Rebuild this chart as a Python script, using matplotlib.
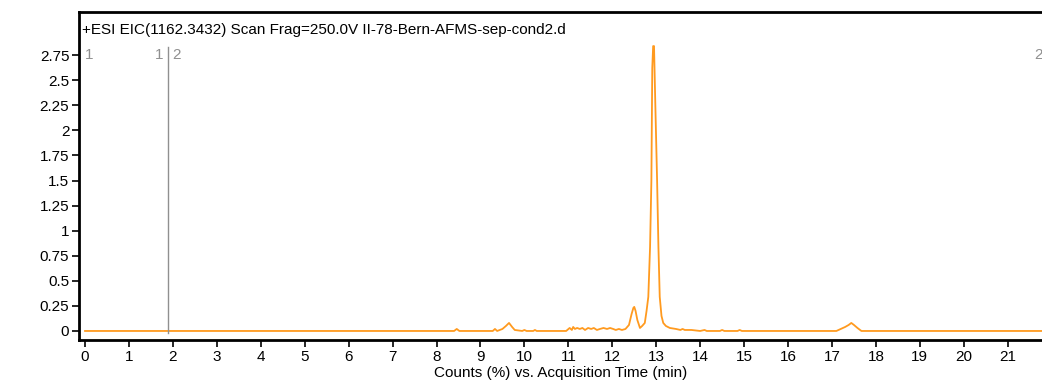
import matplotlib.pyplot as plt

plt.rcParams['font.family'] = ['Liberation Sans', 'DejaVu Sans']

# acquisition time (min) and counts
time = [0.0, 8.40, 8.46, 8.52, 9.28, 9.33, 9.38, 9.50, 9.58, 9.65, 9.72, 9.78,
        9.95, 10.00, 10.05, 10.20, 10.24, 10.28, 10.95, 11.03, 11.08, 11.11, 11.15,
        11.20, 11.26, 11.32, 11.38, 11.45, 11.52, 11.58, 11.65, 11.72, 11.80, 11.88,
        11.95, 12.02, 12.08, 12.15, 12.22, 12.30, 12.38, 12.44, 12.48, 12.50, 12.53,
        12.57, 12.63, 12.68, 12.74, 12.78, 12.82, 12.86, 12.89, 12.91, 12.93, 12.95,
        12.98, 13.02, 13.05, 13.08, 13.12, 13.16, 13.22, 13.31, 13.45, 13.55, 13.60,
        13.65, 13.80, 14.00, 14.10, 14.15, 14.45, 14.50, 14.55, 14.85, 14.90, 14.95,
        17.10, 17.20, 17.30, 17.38, 17.44, 17.50, 17.58, 17.67, 21.8]
counts = [0.0, 0.0, 0.02, 0.0, 0.0, 0.02, 0.0, 0.02, 0.05, 0.08, 0.04, 0.01,
          0.0, 0.01, 0.0, 0.0, 0.01, 0.0, 0.0, 0.03, 0.01, 0.04, 0.02,
          0.03, 0.02, 0.03, 0.01, 0.03, 0.02, 0.03, 0.01, 0.02, 0.03, 0.02,
          0.03, 0.02, 0.01, 0.02, 0.01, 0.02, 0.06, 0.17, 0.23, 0.24, 0.20,
          0.11, 0.03, 0.05, 0.08, 0.20, 0.34, 0.84, 1.50, 2.62, 2.84, 2.84,
          2.25, 1.50, 0.84, 0.34, 0.15, 0.08, 0.05, 0.03, 0.02, 0.01, 0.02,
          0.01, 0.01, 0.0, 0.01, 0.0, 0.0, 0.01, 0.0, 0.0, 0.01, 0.0,
          0.0, 0.02, 0.04, 0.06, 0.08, 0.06, 0.03, 0.0, 0.0]

x_ticks = list(range(0, 22))
y_ticks = [0, 0.25, 0.5, 0.75, 1, 1.25, 1.5, 1.75, 2, 2.25, 2.5, 2.75]

title = '+ESI EIC(1162.3432) Scan Frag=250.0V II-78-Bern-AFMS-sep-cond2.d'
marker_time = 1.89
fs = 11

fig = plt.figure(figsize=(10.42, 3.81), dpi=100)
ax = fig.add_axes([79 / 1042, 1 - 340 / 381, 1 - 79 / 1042, 328 / 381])

ax.plot(time, counts, color='#ff9a1f', lw=1.3)
ax.axvline(marker_time, ymin=0.021, ymax=0.893, color='#909090', lw=1)

ax.set_xlim(-0.137, 21.78)
ax.set_ylim(-0.09, 3.18)
ax.set_xticks(x_ticks)
ax.set_yticks(y_ticks)
ax.set_yticklabels([f'{v:g}' for v in y_ticks])

for s in ['left', 'bottom', 'top']:
    ax.spines[s].set_linewidth(2)
ax.spines['right'].set_visible(False)
ax.tick_params(direction='out', length=5, width=1.2, labelsize=fs, pad=2)

ax.text(3 / 963, 1 - 18 / 328, title, transform=ax.transAxes, fontsize=fs,
        va='center', ha='left')
ax.text(0.0, 2.75, '1', color='#909090', fontsize=fs, va='center', ha='left')
ax.text(marker_time - 0.1, 2.75, '1', color='#909090', fontsize=fs,
        va='center', ha='right')
ax.text(marker_time + 0.1, 2.75, '2', color='#909090', fontsize=fs,
        va='center', ha='left')
ax.text(21.6, 2.75, '2', color='#909090', fontsize=fs, va='center', ha='left')

ax.set_xlabel('Counts (%) vs. Acquisition Time (min)', fontsize=fs, labelpad=2)

fig.savefig('out.png', dpi=100)
